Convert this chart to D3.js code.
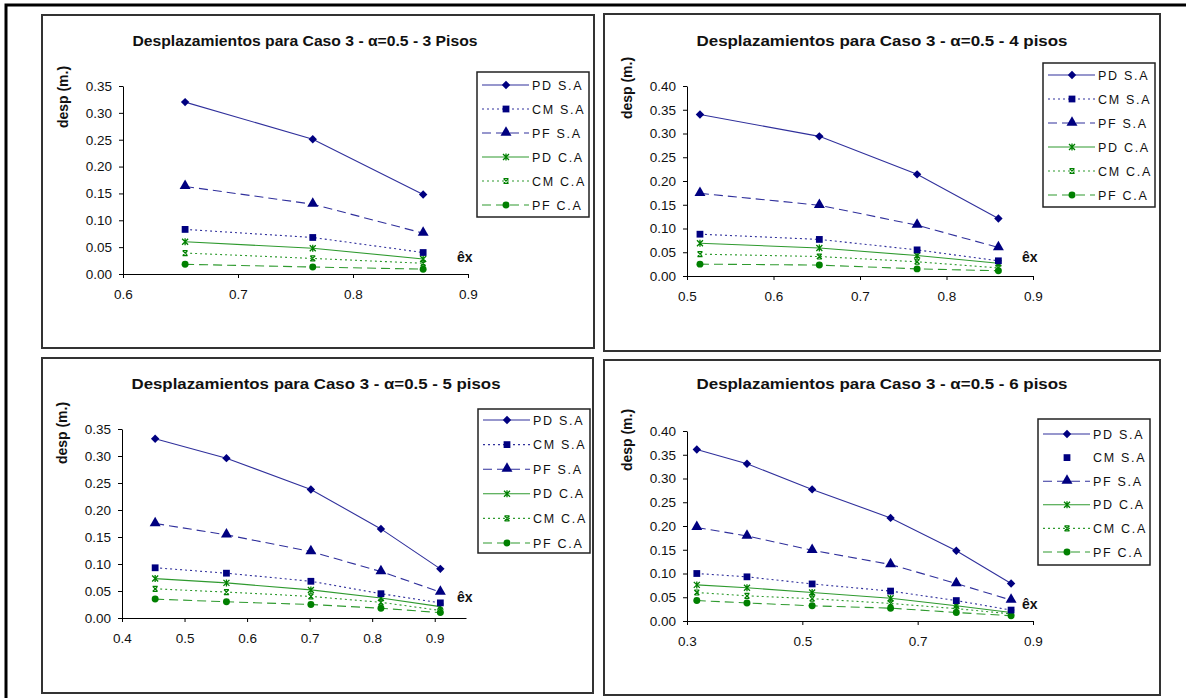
<!DOCTYPE html>
<html>
<head>
<meta charset="utf-8">
<script src="https://cdn.jsdelivr.net/npm/d3@7"></script>
<style>
body { margin: 0; background: #fff; }
svg { display: block; }
text { font-family: "Liberation Sans", Arial, sans-serif; }
</style>
</head>
<body>
<svg id="chart" width="1186" height="698"></svg>
<script>
// series order used in every panel
var seriesNames = ["PD S.A", "CM S.A", "PF S.A", "PD C.A", "CM C.A", "PF C.A"];

// 3 pisos
var ex3 = [0.654, 0.765, 0.861];
var desp3 = [
	[0.320, 0.251, 0.148],
	[0.083, 0.068, 0.040],
	[0.163, 0.130, 0.076],
	[0.060, 0.048, 0.028],
	[0.039, 0.029, 0.020],
	[0.018, 0.013, 0.009]
];

// 4 pisos
var ex4 = [0.515, 0.653, 0.766, 0.860];
var desp4 = [
	[0.340, 0.294, 0.214, 0.121],
	[0.088, 0.077, 0.055, 0.032],
	[0.174, 0.149, 0.107, 0.060],
	[0.069, 0.059, 0.043, 0.027],
	[0.046, 0.041, 0.030, 0.017],
	[0.025, 0.023, 0.015, 0.011]
];

// 5 pisos
var ex5 = [0.453, 0.567, 0.702, 0.814, 0.909];
var desp5 = [
	[0.332, 0.296, 0.238, 0.165, 0.091],
	[0.093, 0.083, 0.068, 0.045, 0.028],
	[0.175, 0.154, 0.123, 0.086, 0.048],
	[0.073, 0.065, 0.052, 0.037, 0.021],
	[0.054, 0.048, 0.040, 0.029, 0.014],
	[0.035, 0.030, 0.025, 0.018, 0.010]
];

// 6 pisos
var ex6 = [0.317, 0.404, 0.517, 0.653, 0.767, 0.862];
var desp6 = [
	[0.361, 0.331, 0.277, 0.217, 0.148, 0.079],
	[0.100, 0.093, 0.078, 0.063, 0.043, 0.023],
	[0.197, 0.179, 0.149, 0.119, 0.079, 0.044],
	[0.076, 0.070, 0.060, 0.048, 0.032, 0.018],
	[0.060, 0.053, 0.047, 0.037, 0.026, 0.015],
	[0.043, 0.038, 0.032, 0.027, 0.018, 0.011]
];

// tick labels
var yTicks35 = [0, 0.05, 0.10, 0.15, 0.20, 0.25, 0.30, 0.35];
var yTicks40 = [0, 0.05, 0.10, 0.15, 0.20, 0.25, 0.30, 0.35, 0.40];
var xTicks3 = [0.6, 0.7, 0.8, 0.9];
var xTicks4 = [0.5, 0.6, 0.7, 0.8, 0.9];
var xTicks5 = [0.4, 0.5, 0.6, 0.7, 0.8, 0.9];
var xTicks6 = [0.3, 0.5, 0.7, 0.9];

var navy = "#000080", navyLine = "#30309c";
var green = "#008000", greenLine = "#2f9a2f";

var styles = [
	{color: navy, line: navyLine, dash: null, marker: "diamond"},
	{color: navy, line: navyLine, dash: "2,3", marker: "square"},
	{color: navy, line: navyLine, dash: "9,5", marker: "triangle"},
	{color: green, line: greenLine, dash: null, marker: "star"},
	{color: green, line: greenLine, dash: "2,3", marker: "x"},
	{color: green, line: greenLine, dash: "9,5", marker: "circle"}
];

var panels = [
	{title: "Desplazamientos para Caso 3 - \u03b1=0.5 - 3 Pisos", ex: ex3, desp: desp3,
	 box: [42, 15, 552, 333], xr: [123, 468], xd: [0.6, 0.9], xt: xTicks3, xf: ".1f",
	 yr: [274, 86], yd: [0, 0.35], yt: yTicks35,
	 tx: 305, ty: 46, tl: 345, ylx: 68, yly: 97, exx: 457, exy: 262,
	 leg: [477, 72, 112, 145], legY: 85, legStep: 24, cmLine: true},
	{title: "Desplazamientos para Caso 3 - \u03b1=0.5 - 4 pisos", ex: ex4, desp: desp4,
	 box: [604, 14, 556, 337], xr: [687, 1033], xd: [0.5, 0.9], xt: xTicks4, xf: ".1f",
	 yr: [276, 86], yd: [0, 0.40], yt: yTicks40,
	 tx: 882, ty: 46, tl: 371, ylx: 632, yly: 88, exx: 1022, exy: 262,
	 leg: [1043, 63, 112, 144], legY: 75, legStep: 24, cmLine: true},
	{title: "Desplazamientos para Caso 3 - \u03b1=0.5 - 5 pisos", ex: ex5, desp: desp5,
	 box: [42, 358, 551, 335], xr: [122, 466], xd: [0.4, 0.95], xt: xTicks5, xf: ".1f",
	 yr: [618, 429], yd: [0, 0.35], yt: yTicks35,
	 tx: 316, ty: 389, tl: 369, ylx: 67, yly: 433, exx: 457, exy: 602,
	 leg: [478, 409, 112, 144], legY: 420, legStep: 24.6, cmLine: true},
	{title: "Desplazamientos para Caso 3 - \u03b1=0.5 - 6 pisos", ex: ex6, desp: desp6,
	 box: [604, 360, 556, 335], xr: [687, 1033], xd: [0.3, 0.9], xt: xTicks6, xf: ".1f",
	 yr: [621, 431], yd: [0, 0.40], yt: yTicks40,
	 tx: 882, ty: 389, tl: 371, ylx: 632, yly: 440, exx: 1022, exy: 609,
	 leg: [1038, 419, 112, 146], legY: 434, legStep: 23.6, cmLine: false}
];

var svg = d3.select("#chart");

svg.append("rect").attr("width", 1186).attr("height", 698).attr("fill", "#fff");

// outer frame (top and left edges)
svg.append("path")
	.attr("d", "M6,698V5H1186")
	.attr("fill", "none")
	.attr("stroke", "#000")
	.attr("stroke-width", 3);

function drawMarker(g, type, x, y, color) {
	var t = "translate(" + x + "," + y + ")";
	if (type == "diamond") {
		g.append("path").attr("d", "M0,-4.2L4.2,0L0,4.2L-4.2,0Z").attr("transform", t).attr("fill", color);
	} else if (type == "square") {
		g.append("path").attr("d", d3.symbol(d3.symbolSquare, 46)()).attr("transform", t).attr("fill", color);
	} else if (type == "triangle") {
		g.append("path").attr("d", d3.symbol(d3.symbolTriangle, 52)()).attr("transform", t + " translate(0,-0.5)").attr("fill", color);
	} else if (type == "circle") {
		g.append("path").attr("d", d3.symbol(d3.symbolCircle, 38)()).attr("transform", t).attr("fill", color);
	} else if (type == "star") {
		g.append("path").attr("d", "M-3,-3L3,3M-3,3L3,-3M0,-3.5V3.5").attr("transform", t)
			.attr("stroke", color).attr("stroke-width", 1.3).attr("fill", "none");
	} else if (type == "x") {
		g.append("path").attr("d", "M-2.5,-2.5L2.5,2.5M-2.5,2.5L2.5,-2.5M-2.5,-2.5H2.5M-2.5,2.5H2.5").attr("transform", t)
			.attr("stroke", color).attr("stroke-width", 1.2).attr("fill", "none");
	}
}

function drawPanel(p) {
	var g = svg.append("g");

	g.append("rect")
		.attr("x", p.box[0]).attr("y", p.box[1])
		.attr("width", p.box[2]).attr("height", p.box[3])
		.attr("fill", "#fff").attr("stroke", "#333").attr("stroke-width", 2);

	var x = d3.scaleLinear().domain(p.xd).range(p.xr);
	var y = d3.scaleLinear().domain(p.yd).range(p.yr);

	var yAxis = g.append("g")
		.attr("transform", "translate(" + p.xr[0] + ",0)")
		.call(d3.axisLeft(y).tickValues(p.yt).tickFormat(d3.format(".2f")).tickSize(4).tickSizeOuter(0).tickPadding(7));
	var xAxis = g.append("g")
		.attr("transform", "translate(0," + p.yr[0] + ")")
		.call(d3.axisBottom(x).tickValues(p.xt).tickFormat(d3.format(p.xf)).tickSize(4).tickSizeOuter(0).tickPadding(11));

	[yAxis, xAxis].forEach(function(a) {
		a.attr("font-size", 13.5);
		a.selectAll("text").attr("fill", "#111")
			.style("font-family", "'Liberation Sans', Arial, sans-serif");
		a.selectAll("line").attr("stroke", "#000");
		a.select(".domain").attr("stroke", "#000");
	});

	// title
	g.append("text")
		.attr("x", p.tx).attr("y", p.ty)
		.attr("text-anchor", "middle")
		.attr("font-size", 15).attr("font-weight", "bold")
		.attr("textLength", p.tl).attr("lengthAdjust", "spacingAndGlyphs")
		.attr("fill", "#111")
		.text(p.title);

	// y axis label
	g.append("text")
		.attr("transform", "translate(" + p.ylx + "," + p.yly + ") rotate(-90)")
		.attr("text-anchor", "middle")
		.attr("font-size", 14).attr("font-weight", "bold")
		.attr("fill", "#111")
		.text("desp (m.)");

	g.append("text")
		.attr("x", p.exx).attr("y", p.exy)
		.attr("font-size", 14).attr("font-weight", "bold")
		.attr("fill", "#111")
		.text("\u00eax");

	var line = d3.line()
		.x(function(d) { return x(d[0]); })
		.y(function(d) { return y(d[1]); });

	// draw the C.A series first so the S.A markers stay on top
	var order = [5, 4, 3, 1, 2, 0];
	order.forEach(function(i) {
		var s = styles[i];
		var pts = _zip(p.ex, p.desp[i]);
		g.append("path")
			.attr("d", line(pts))
			.attr("fill", "none")
			.attr("stroke", s.line)
			.attr("stroke-width", 1.1)
			.attr("stroke-dasharray", s.dash);
		pts.forEach(function(d) {
			drawMarker(g, s.marker, x(d[0]), y(d[1]), s.color);
		});
	});

	// legend
	var L = p.leg;
	g.append("rect")
		.attr("x", L[0]).attr("y", L[1]).attr("width", L[2]).attr("height", L[3])
		.attr("fill", "#fff").attr("stroke", "#222").attr("stroke-width", 1.5);

	seriesNames.forEach(function(name, i) {
		var s = styles[i];
		var ly = p.legY + i * p.legStep;
		if (i != 1 || p.cmLine) {
			g.append("line")
				.attr("x1", L[0] + 5).attr("x2", L[0] + 52)
				.attr("y1", ly).attr("y2", ly)
				.attr("stroke", s.line).attr("stroke-width", 1.1)
				.attr("stroke-dasharray", s.dash);
		}
		drawMarker(g, s.marker, L[0] + 29, ly, s.color);
		g.append("text")
			.attr("x", L[0] + 55).attr("y", ly + 4.5)
			.attr("font-size", 12.5)
			.attr("letter-spacing", "1.7px")
			.attr("fill", "#111")
			.text(name);
	});
}

function _zip(a, b) {
	return a.map(function(v, i) { return [v, b[i]]; });
}

panels.forEach(drawPanel);
</script>
</body>
</html>
